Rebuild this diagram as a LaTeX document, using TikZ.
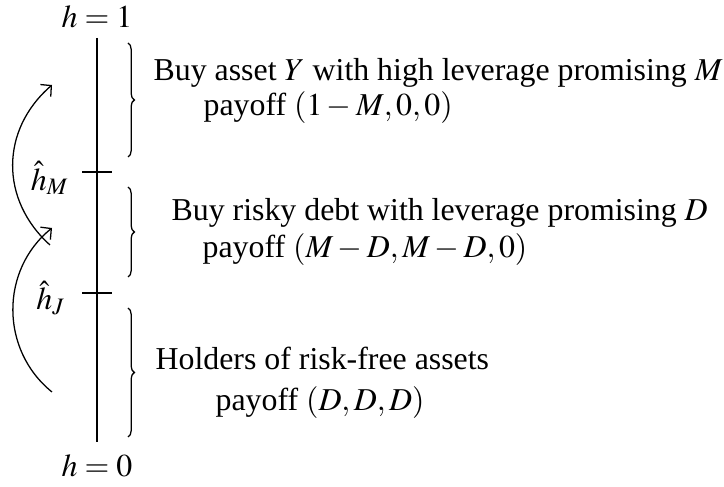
\documentclass[tikz,border=0pt]{standalone}
\usepackage{mathptmx}
\usepackage{fontspec}
\setmainfont{Liberation Serif}
\usetikzlibrary{decorations.pathreplacing,arrows.meta}
\tikzset{
  axisline/.style={line width=0.75pt},
  tickline/.style={line width=0.4pt},
  bracestyle/.style={line width=0.4pt,decorate,decoration={brace,amplitude=2pt}},
  arcline/.style={line width=0.4pt,-{Straight Barb[length=2.4pt,width=5pt]}},
  lbl/.style={inner sep=0pt,anchor=west},
  clbl/.style={inner sep=0pt}
}
\begin{document}
\begin{tikzpicture}[x=0.314pt,y=-0.314pt]
\useasboundingbox (0,0) rectangle (724,487);
% axis
\coordinate (top) at (97,38);
\coordinate (bot) at (97,442);
\coordinate (tM) at (97,172);
\coordinate (tJ) at (97,293);
\draw[axisline] (top) -- (bot);
\draw[tickline] (tM) ++(-15,0) -- ++(30,0);
\draw[tickline] (tJ) ++(-15,0) -- ++(30,0);
\node[clbl] (h1) at (97,17) {$h=1$};
\node[clbl] (h0) at (97,466) {$h=0$};
\node[clbl] (hM) at (50,178) {$\hat{h}_M$};
\node[clbl] (hJ) at (51,298) {$\hat{h}_J$};
% arcs
\coordinate (a1s) at (50,245);
\coordinate (a1e) at (52,85);
\coordinate (a2s) at (52,392);
\coordinate (a2e) at (52,228);
\draw[arcline] (a1s) .. controls (0,200) and (0,130) .. (a1e);
\draw[arcline] (a2s) .. controls (0,350) and (0,270) .. (a2e);
% braces
\coordinate (b1t) at (128,43);
\coordinate (b1b) at (128,157);
\coordinate (b2t) at (128,187);
\coordinate (b2b) at (128,277);
\coordinate (b3t) at (128,308);
\coordinate (b3b) at (128,437);
\draw[bracestyle] (b1t) -- (b1b);
\draw[bracestyle] (b2t) -- (b2b);
\draw[bracestyle] (b3t) -- (b3b);
% texts
\node[lbl] (t1) at (153,73) {Buy asset $Y$ with high leverage promising $M$};
\node[lbl] (p1) at (203,108) {payoff $(1-M,0,0)$};
\node[lbl] (t2) at (171,213) {Buy risky debt with leverage promising $D$};
\node[lbl] (p2) at (202,250) {payoff $(M-D,M-D,0)$};
\node[lbl] (t3) at (155,358) {Holders of risk-free assets};
\node[lbl] (p3) at (215,403) {payoff $(D,D,D)$};
\end{tikzpicture}
\end{document}
